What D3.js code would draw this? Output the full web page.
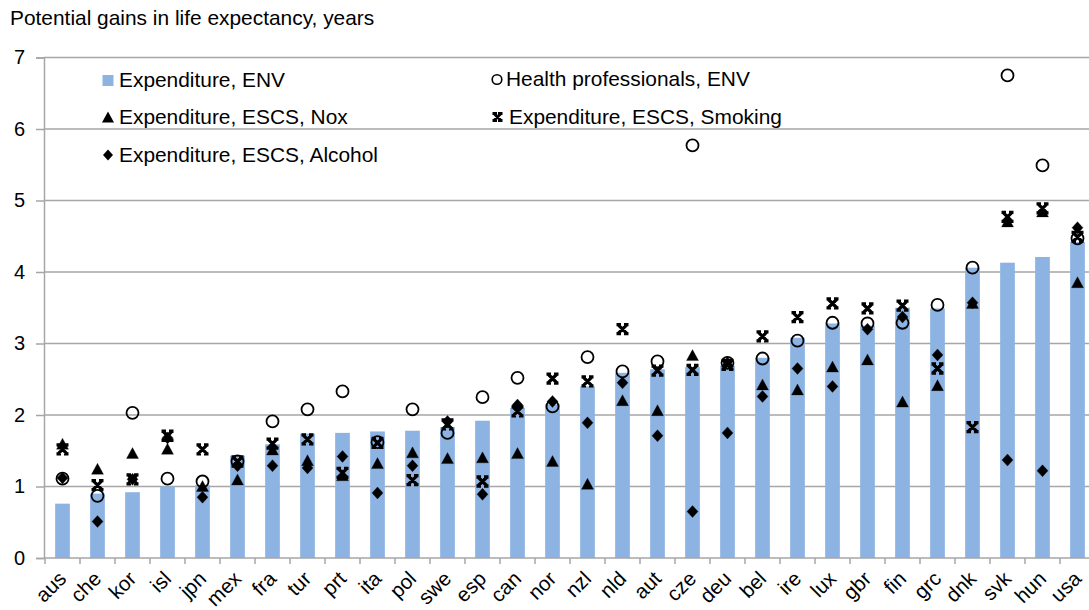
<!DOCTYPE html>
<html>
<head>
<meta charset="utf-8">
<script src="https://cdn.jsdelivr.net/npm/d3@7"></script>
<style>
  body { margin: 0; background: #fff; }
  svg { font-family: "Liberation Sans", Arial, sans-serif; }
</style>
</head>
<body>
<div id="chart"></div>
<script>
// categories and series values (years)
const categories = ["aus","che","kor","isl","jpn","mex","fra","tur","prt","ita","pol","swe","esp","can","nor",
    "nzl","nld","aut","cze","deu","bel","ire","lux","gbr","fin","grc","dnk","svk","hun","usa"];
const expEnv = [0.76,0.90,0.92,1.00,1.02,1.43,1.59,1.74,1.75,1.77,1.78,1.83,1.92,2.10,2.15,
    2.40,2.59,2.64,2.67,2.69,2.80,3.08,3.28,3.25,3.50,3.49,4.06,4.13,4.21,4.42];
const healthProf = [1.11,0.87,2.03,1.11,1.07,1.35,1.91,2.08,2.33,1.62,2.08,1.75,2.25,2.52,2.12,
    2.81,2.61,2.75,5.77,2.73,2.79,3.04,3.29,3.28,3.29,3.54,4.06,6.75,5.49,4.47];
const nox = [1.59,1.24,1.46,1.52,1.00,1.09,1.51,1.36,1.15,1.32,1.47,1.39,1.40,1.46,1.35,
    1.03,2.20,2.06,2.83,2.74,2.42,2.35,2.67,2.77,2.18,2.41,3.56,4.70,4.84,3.85];
const smoking = [1.52,1.02,1.10,1.71,1.52,1.35,1.60,1.66,1.19,1.61,1.09,1.87,1.07,2.05,2.51,
    2.47,3.20,2.62,2.63,2.70,3.10,3.37,3.56,3.49,3.53,2.65,1.83,4.77,4.89,4.49];
const alcohol = [1.12,0.51,1.10,1.68,0.85,1.29,1.29,1.26,1.42,0.91,1.29,1.91,0.89,2.14,2.19,
    1.89,2.45,1.71,0.65,1.75,2.26,2.65,2.40,3.20,3.37,2.84,3.57,1.37,1.22,4.62];
const yTicks = [0,1,2,3,4,5,6,7];
const titleText = "Potential gains in life expectancy, years";

const W = 1089, H = 610;
const barColor = "#8db3e2", gridColor = "#a6a6a6";
const fontSize = 20.9, tickFont = 20, xLabelFont = 20.5;

const svg = d3.select("#chart").append("svg")
    .attr("width", W)
    .attr("height", H);

// scales
const x = d3.scaleBand()
    .domain(categories)
    .range([45, 1095])
    .paddingInner(0.58)
    .paddingOuter(0.29);

const y = d3.scaleLinear()
    .domain([0, 7])
    .range([558, 57.5]);

const plotLeft = 44, plotRight = W;

// title
svg.append("text")
    .attr("x", 10).attr("y", 25)
    .attr("font-size", fontSize)
    .attr("fill", "#000")
    .text(titleText);

// gridlines
svg.append("g").selectAll("line")
    .data(yTicks.filter(d => d > 0))
    .join("line")
    .attr("x1", plotLeft).attr("x2", plotRight)
    .attr("y1", d => y(d)).attr("y2", d => y(d))
    .attr("stroke", gridColor).attr("stroke-width", 1.5);

// y axis
const yAxis = svg.append("g")
    .attr("transform", "translate(" + plotLeft + ",0)")
    .call(d3.axisLeft(y).tickValues(yTicks).tickSize(8).tickPadding(11).tickFormat(d3.format("d")));
yAxis.select(".domain").attr("stroke", gridColor).attr("stroke-width", 1.5);
yAxis.selectAll(".tick line").attr("stroke", gridColor).attr("stroke-width", 1.5);
yAxis.selectAll("text").attr("font-size", tickFont).attr("fill", "#000")
    .attr("font-family", "Liberation Sans, Arial, sans-serif");

// bars
svg.append("g").selectAll("rect")
    .data(categories)
    .join("rect")
    .attr("x", (d, i) => x(d))
    .attr("width", x.bandwidth())
    .attr("y", (d, i) => y(expEnv[i]))
    .attr("height", (d, i) => y(0) - y(expEnv[i]))
    .attr("fill", barColor);

// x axis line + ticks at band boundaries
const gap = (x.step() - x.bandwidth()) / 2;
svg.append("line")
    .attr("x1", plotLeft).attr("x2", plotRight)
    .attr("y1", y(0)).attr("y2", y(0))
    .attr("stroke", gridColor).attr("stroke-width", 1.5);
svg.append("g").selectAll("line")
    .data(categories)
    .join("line")
    .attr("x1", d => x(d) - gap).attr("x2", d => x(d) - gap)
    .attr("y1", y(0)).attr("y2", y(0) + 6)
    .attr("stroke", gridColor).attr("stroke-width", 1.5);

// x labels
svg.append("g").selectAll("text")
    .data(categories)
    .join("text")
    .attr("transform", d => "translate(" + (x(d) + x.bandwidth() / 2 + 5) + "," + (y(0) + 22) + ") rotate(-45)")
    .attr("text-anchor", "end")
    .attr("font-size", xLabelFont)
    .attr("fill", "#000")
    .text(d => d);

// marker shapes
const cx = i => x(categories[i]) + x.bandwidth() / 2;
const tri = (w, h) => "M0," + (-h * 0.55) + "L" + (w / 2) + "," + (h * 0.45) + "L" + (-w / 2) + "," + (h * 0.45) + "Z";
const dia = (w, h) => "M0," + (-h / 2) + "L" + (w / 2) + ",0L0," + (h / 2) + "L" + (-w / 2) + ",0Z";
const cross = s => "M" + (-s / 2) + "," + (-s / 2) + "L" + (s / 2) + "," + (s / 2) + "M" + (s / 2) + "," + (-s / 2) + "L" + (-s / 2) + "," + (s / 2)
    + "M" + (-s / 2 - 1.5) + "," + (-s / 2) + "H" + (-s / 2 + 3) + "M" + (s / 2 - 3) + "," + (-s / 2) + "H" + (s / 2 + 1.5)
    + "M" + (-s / 2 - 1.5) + "," + (s / 2) + "H" + (-s / 2 + 3) + "M" + (s / 2 - 3) + "," + (s / 2) + "H" + (s / 2 + 1.5);

function drawPath(values, d, filled) {
    svg.append("g").selectAll("path")
        .data(values)
        .join("path")
        .attr("transform", (v, i) => "translate(" + cx(i) + "," + y(v) + ")")
        .attr("d", d)
        .attr("fill", filled ? "#000" : "none")
        .attr("stroke", "#000")
        .attr("stroke-width", filled ? 0.3 : 3.3);
}

drawPath(nox, tri(12, 11), true);
drawPath(smoking, cross(9), false);
drawPath(alcohol, dia(11, 12), true);

svg.append("g").selectAll("circle")
    .data(healthProf)
    .join("circle")
    .attr("cx", (d, i) => cx(i))
    .attr("cy", d => y(d))
    .attr("r", 6)
    .attr("fill", "none")
    .attr("stroke", "#000")
    .attr("stroke-width", 1.8);

// legend
const legendItems = [
    {label: "Expenditure, ENV", type: "bar", lx: 108, ly: 87, tx: 119},
    {label: "Expenditure, ESCS, Nox", type: "tri", lx: 108, ly: 124, tx: 119},
    {label: "Expenditure, ESCS, Alcohol", type: "dia", lx: 108, ly: 161.5, tx: 119},
    {label: "Health professionals, ENV", type: "circle", lx: 497, ly: 86, tx: 506},
    {label: "Expenditure, ESCS, Smoking", type: "cross", lx: 497.5, ly: 123.5, tx: 509}
];

const lg = svg.append("g");
legendItems.forEach(item => {
    const g = lg.append("g").attr("transform", "translate(" + item.lx + "," + (item.ly - 6.5) + ")");
    if (item.type === "bar") {
        g.append("rect").attr("x", -5.5).attr("y", -5.5).attr("width", 11).attr("height", 11).attr("fill", barColor);
    } else if (item.type === "tri") {
        g.append("path").attr("d", tri(12, 11)).attr("fill", "#000");
    } else if (item.type === "dia") {
        g.append("path").attr("d", dia(10, 11)).attr("fill", "#000");
    } else if (item.type === "circle") {
        g.append("circle").attr("r", 4.8).attr("fill", "none").attr("stroke", "#000").attr("stroke-width", 1.6);
    } else {
        g.append("path").attr("d", cross(7)).attr("fill", "none").attr("stroke", "#000").attr("stroke-width", 3);
    }
    lg.append("text")
        .attr("x", item.tx)
        .attr("y", item.ly)
        .attr("font-size", fontSize)
        .attr("fill", "#000")
        .text(item.label);
});
</script>
</body>
</html>
